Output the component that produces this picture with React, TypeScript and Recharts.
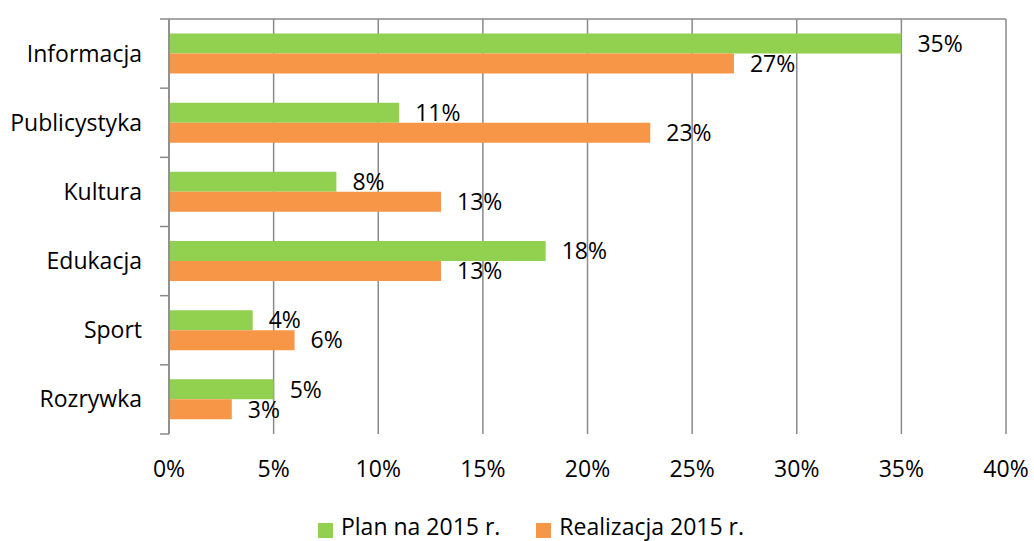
import React from 'react';
import { BarChart, Bar, XAxis, YAxis, CartesianGrid, Legend, LabelList } from 'recharts';

const categories = ['Informacja', 'Publicystyka', 'Kultura', 'Edukacja', 'Sport', 'Rozrywka'];
const planValues = [35, 11, 8, 18, 4, 5];
const realValues = [27, 23, 13, 13, 6, 3];
const xTicks = [0, 5, 10, 15, 20, 25, 30, 35, 40];
const seriesNames = { plan: 'Plan na 2015 r.', real: 'Realizacja 2015 r.' };

const data = categories.map((c, i) => ({ name: c, plan: planValues[i], real: realValues[i] }));

const FONT = '"Open Sans", sans-serif';
const FS = 23;
const GRID = '#8a8a8a';

const CategoryTick = (props: any) => {
  const { x, y, payload, index, visibleTicksCount } = props;
  const half = payload && payload.offset ? payload.offset : 34.6;
  const axisX = x + 27;
  return (
    <g>
      <text x={x} y={y} dy={8} textAnchor="end" fontSize={FS} fill="#000" fontFamily={FONT}>
        {payload.value}
      </text>
      <line x1={axisX - 9} x2={axisX} y1={y - half} y2={y - half} stroke={GRID} strokeWidth={1.5} />
      {index === visibleTicksCount - 1 && (
        <line x1={axisX - 9} x2={axisX} y1={y + half} y2={y + half} stroke={GRID} strokeWidth={1.5} />
      )}
    </g>
  );
};

export default function App() {
  return (
    <div style={{ position: 'absolute', left: 0, top: 0, fontFamily: FONT }}>
      <BarChart
        width={1034}
        height={541}
        data={data}
        layout="vertical"
        margin={{ top: 0, right: 28, bottom: 37, left: 0 }}
        barCategoryGap="21%"
        barGap={0}
      >
        <CartesianGrid horizontal={false} vertical={true} stroke={GRID} strokeWidth={1.5} />
        <XAxis
          type="number"
          domain={[0, 40]}
          ticks={xTicks}
          tickFormatter={(v: number) => `${v}%`}
          axisLine={false}
          tickLine={false}
          tickSize={0}
          tickMargin={27}
          height={40}
          tick={{ fontSize: FS, fill: '#000', fontFamily: FONT }}
          interval={0}
        />
        <XAxis
          xAxisId="top"
          orientation="top"
          type="number"
          domain={[0, 40]}
          ticks={xTicks}
          tickFormatter={() => ''}
          axisLine={{ stroke: GRID, strokeWidth: 1.5 }}
          tickLine={{ stroke: GRID, strokeWidth: 1.5 }}
          tickSize={9}
          height={19}
          interval={0}
        />
        <YAxis
          type="category"
          dataKey="name"
          width={169}
          axisLine={{ stroke: GRID, strokeWidth: 1.5 }}
          tickLine={false}
          tickSize={0}
          tickMargin={27}
          tick={<CategoryTick />}
          interval={0}
        />
        <Legend
          verticalAlign="bottom"
          align="center"
          iconType="square"
          iconSize={15}
          wrapperStyle={{ top: 510, bottom: 'auto', height: 30, left: 33 }}
          formatter={(value: string, _entry: any, i: number) => (
            <span style={{ color: '#000', fontSize: FS, paddingLeft: 4, paddingRight: i === 0 ? 26 : 0 }}>{value}</span>
          )}
        />
        <Bar dataKey="plan" name={seriesNames.plan} fill="#92D050" isAnimationActive={false}>
          <LabelList
            dataKey="plan"
            position="right"
            offset={16}
            formatter={(v: number) => `${v}%`}
            style={{ fontSize: FS, fill: '#000', fontFamily: FONT }}
          />
        </Bar>
        <Bar dataKey="real" name={seriesNames.real} fill="#F79646" isAnimationActive={false}>
          <LabelList
            dataKey="real"
            position="right"
            offset={16}
            formatter={(v: number) => `${v}%`}
            style={{ fontSize: FS, fill: '#000', fontFamily: FONT }}
          />
        </Bar>
      </BarChart>
    </div>
  );
}
